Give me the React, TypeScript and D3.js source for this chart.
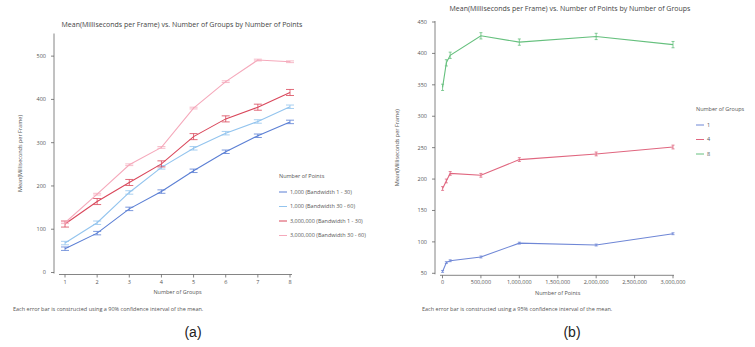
import * as d3 from "d3"

// ---- panel (a): ms per frame vs number of groups ----
const groups = [1, 2, 3, 4, 5, 6, 7, 8]
const groupTicks = [1, 2, 3, 4, 5, 6, 7, 8]
const msTicksA = [0, 100, 200, 300, 400, 500]

const seriesA = ["1,000 (Bandwidth 1 - 30)", "1,000 (Bandwidth 30 - 60)", "3,000,000 (Bandwidth 1 - 30)", "3,000,000 (Bandwidth 30 - 60)"]
const pts1kBw1 = [55, 91, 147, 187, 235, 279, 316, 348]
const pts1kBw30 = [68, 115, 185, 243, 287, 322, 349, 383]
const pts3mBw1 = [112, 164, 208, 251, 314, 355, 382, 416]
const pts3mBw30 = [115, 181, 249, 289, 380, 441, 491, 487]
const errA = [4, 4, 7, 2]
const colorsA = ["#5b7fd4", "#93c4ee", "#d9475b", "#f5a9bb"]

// ---- panel (b): ms per frame vs number of points ----
const points = [1000, 50000, 100000, 500000, 1000000, 2000000, 3000000]
const pointTicks = [0, 500000, 1000000, 1500000, 2000000, 2500000, 3000000]
const msTicksB = [50, 100, 150, 200, 250, 300, 350, 400, 450]

const seriesB = ["1", "4", "8"]
const grp1 = [53, 67, 70, 76, 98, 95, 113]
const grp4 = [185, 197, 209, 206, 231, 240, 251]
const grp8 = [346, 385, 397, 428, 418, 427, 414]
const errB = [1.5, 3, 5]
const colorsB = ["#6f87d6", "#e0667f", "#66c07e"]

const font = "'Open Sans', 'DejaVu Sans', sans-serif"
const textCol = "#555"
const axisCol = "#666"

function Panel({ x, y, xTicks, yTicks, xFmt, valuesList, xs, errs, colors, cap, title, xTitle, titleX, titleY, yTitleX, xTitleY, axisX, axisEndX }: any) {
  const line = d3.line<[number, number]>().x((d) => d[0]).y((d) => d[1])
  const y0 = y.range()[0]
  const y1 = y.range()[1]
  return (
    <g>
      <text x={titleX} y={titleY} textAnchor="middle" fontSize={7} fill="#444">{title}</text>
      {/* y axis */}
      <line x1={axisX} x2={axisX} y1={y1 - 1} y2={y0 + 1} stroke={axisCol} strokeWidth={0.8} />
      {yTicks.map((t: number) => (
        <g key={t}>
          <line x1={axisX - 3} x2={axisX} y1={y(t)} y2={y(t)} stroke={axisCol} strokeWidth={0.8} />
          <text x={axisX - 8} y={y(t)} dy="0.35em" textAnchor="end" fontSize={5.5} fill={textCol}>{t}</text>
        </g>
      ))}
      <text transform={`translate(${yTitleX},${(y0 + y1) / 2}) rotate(-90)`} textAnchor="middle" fontSize={5.5} fill={textCol}>Mean(Milliseconds per Frame)</text>
      {/* x axis */}
      <line x1={axisX + 5} x2={axisEndX} y1={y0 + 2} y2={y0 + 2} stroke={axisCol} strokeWidth={0.8} />
      {xTicks.map((t: number) => (
        <g key={t}>
          <line x1={x(t)} x2={x(t)} y1={y0 + 2} y2={y0 + 5} stroke={axisCol} strokeWidth={0.8} />
          <text x={x(t)} y={y0 + 11} textAnchor="middle" fontSize={5.5} fill={textCol}>{xFmt(t)}</text>
        </g>
      ))}
      <text x={(x.range()[0] + x.range()[1]) / 2} y={xTitleY} textAnchor="middle" fontSize={5.5} fill={textCol}>{xTitle}</text>
      {/* series */}
      {valuesList.map((vals: number[], i: number) => (
        <g key={i}>
          <path d={line(vals.map((v, j) => [x(xs[j]), y(v)])) || ""} fill="none" stroke={colors[i]} strokeWidth={1.1} />
          {vals.map((v, j) => (
            <g key={j} stroke={colors[i]} strokeWidth={0.8}>
              <line x1={x(xs[j])} x2={x(xs[j])} y1={y(v - errs[i])} y2={y(v + errs[i])} />
              <line x1={x(xs[j]) - cap} x2={x(xs[j]) + cap} y1={y(v - errs[i])} y2={y(v - errs[i])} />
              <line x1={x(xs[j]) - cap} x2={x(xs[j]) + cap} y1={y(v + errs[i])} y2={y(v + errs[i])} />
            </g>
          ))}
        </g>
      ))}
    </g>
  )
}

function Legend({ x, y, title, labels, colors }: any) {
  return (
    <g>
      <text x={x} y={y} fontSize={5.5} fill={textCol}>{title}</text>
      {labels.map((l: string, i: number) => (
        <g key={l}>
          <line x1={x} x2={x + 8} y1={y + 14 + i * 14.5} y2={y + 14 + i * 14.5} stroke={colors[i]} strokeWidth={1} />
          <text x={x + 11} y={y + 14 + i * 14.5} dy="0.35em" fontSize={5.5} fill={textCol}>{l}</text>
        </g>
      ))}
    </g>
  )
}

export default function App() {
  const xA = d3.scaleLinear().domain([1, 8]).range([65, 290])
  const yA = d3.scaleLinear().domain([0, 550]).range([272.5, 34.5])
  const xB = d3.scaleLinear().domain([0, 3000000]).range([442.5, 673])
  const yB = d3.scaleLinear().domain([50, 450]).range([273.3, 22])
  const fmt = d3.format(",")

  return (
    <svg width={755} height={347} style={{ position: "absolute", left: 0, top: 0, background: "#fff" }} fontFamily={font}>
      <Panel
        x={xA} y={yA} xTicks={groupTicks} yTicks={msTicksA} xFmt={(t: number) => String(t)}
        valuesList={[pts1kBw1, pts1kBw30, pts3mBw1, pts3mBw30]} xs={groups} errs={errA} colors={colorsA} cap={4}
        title="Mean(Milliseconds per Frame) vs. Number of Groups by Number of Points" xTitle="Number of Groups"
        titleX={182} titleY={27} yTitleX={22} xTitleY={294} axisX={54} axisEndX={292}
      />
      <Legend x={279} y={178} title="Number of Points" labels={seriesA} colors={colorsA} />
      <text x={13} y={311} fontSize={5.5} fill={textCol}>Each error bar is constructed using a 90% confidence interval of the mean.</text>
      <text x={193} y={337} textAnchor="middle" fontSize={14} fontFamily="'Liberation Sans', Arial, sans-serif" fill="#222">(a)</text>

      <Panel
        x={xB} y={yB} xTicks={pointTicks} yTicks={msTicksB} xFmt={fmt}
        valuesList={[grp1, grp4, grp8]} xs={points} errs={errB} colors={colorsB} cap={1.5}
        title="Mean(Milliseconds per Frame) vs. Number of Points by Number of Groups" xTitle="Number of Points"
        titleX={570} titleY={11} yTitleX={399} xTitleY={295} axisX={435} axisEndX={674}
      />
      <Legend x={696} y={111} title="Number of Groups" labels={seriesB} colors={colorsB} />
      <text x={422} y={311} fontSize={5.5} fill={textCol}>Each error bar is constructed using a 95% confidence interval of the mean.</text>
      <text x={572} y={337} textAnchor="middle" fontSize={14} fontFamily="'Liberation Sans', Arial, sans-serif" fill="#222">(b)</text>
    </svg>
  )
}
